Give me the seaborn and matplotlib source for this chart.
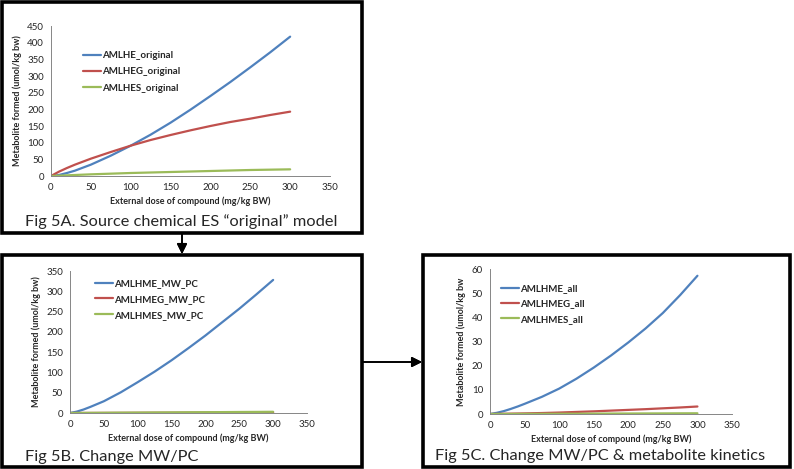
import matplotlib
matplotlib.use('Agg')
import matplotlib.pyplot as plt
from matplotlib.patches import Rectangle
import seaborn as sns
import pandas as pd

# dose grid (mg/kg BW) shared by all panels
dose = [0, 10, 20, 30, 40, 50, 75, 100, 125, 150, 175, 200, 225, 250, 275, 300]

# Fig 5A - original model
amlhe_original = [0, 3, 9, 16, 25, 34, 61, 91, 124, 160, 199, 240, 282, 326, 371, 418]
amlheg_original = [0, 13, 24, 34, 43, 52, 72, 91, 108, 123, 137, 150, 162, 172, 183, 193]
amlhes_original = [0, 1, 2, 3, 4, 5, 7, 9, 10.5, 12, 13.5, 15, 16.5, 18, 19, 20]

# Fig 5B - change MW/PC
amlhme_mw_pc = [0, 3.4, 8.6, 15, 22, 29, 51, 76, 102, 130, 160, 191, 224, 257, 292, 328]
amlhmeg_mw_pc = [0, 0.05, 0.1, 0.15, 0.2, 0.25, 0.35, 0.5, 0.6, 0.7, 0.8, 0.95, 1.05, 1.2, 1.3, 1.4]
amlhmes_mw_pc = [0, 0.1, 0.2, 0.3, 0.4, 0.5, 0.8, 1.0, 1.3, 1.5, 1.8, 2.0, 2.2, 2.5, 2.7, 3.0]

# Fig 5C - change MW/PC & metabolite kinetics
amlhme_all = [0, 0.5, 1.2, 2.1, 3.1, 4.2, 7.1, 10.5, 14.6, 19.2, 24.2, 29.6, 35.4, 41.8, 49.2, 57.2]
amlhmeg_all = [0, 0.05, 0.1, 0.15, 0.2, 0.25, 0.4, 0.6, 0.85, 1.1, 1.4, 1.7, 2.0, 2.35, 2.7, 3.1]
amlhmes_all = [0, 0.01, 0.02, 0.03, 0.04, 0.05, 0.07, 0.1, 0.12, 0.15, 0.18, 0.2, 0.23, 0.25, 0.28, 0.3]

COLORS = ['#4F81BD', '#C0504D', '#9BBB59']
XLABEL = 'External dose of compound (mg/kg BW)'

sns.set_style('white')
plt.rcParams['font.family'] = ['Lato', 'DejaVu Sans']

W, H = 794, 469
fig = plt.figure(figsize=(W / 100, H / 100), dpi=100)


def px_axes(x0, x1, y_top, y_bot):
    """Axes placed by pixel coords (y measured from top)."""
    return fig.add_axes([x0 / W, 1 - y_bot / H, (x1 - x0) / W, (y_bot - y_top) / H])


def draw_panel(ax, series, names, ymax, ystep, ylabel, leg_anchor, spacing):
    df = pd.DataFrame({'dose': dose * len(series),
                       'value': [v for s in series for v in s],
                       'series': [n for n in names for _ in dose]})
    sns.lineplot(data=df, x='dose', y='value', hue='series', palette=COLORS,
                 linewidth=1.6, ax=ax)
    ax.set_xlim(0, 350)
    ax.set_ylim(0, ymax)
    ax.set_xticks(range(0, 351, 50))
    ax.set_yticks(range(0, ymax + 1, ystep))
    ax.tick_params(axis='both', labelsize=7, length=3, width=0.6,
                   color='#868686', direction='out', pad=2)
    for s in ['top', 'right']:
        ax.spines[s].set_visible(False)
    for s in ['left', 'bottom']:
        ax.spines[s].set_color('#868686')
        ax.spines[s].set_linewidth(0.7)
    ax.set_xlabel(XLABEL, fontsize=6.5, fontweight='bold', labelpad=3)
    ax.set_ylabel(ylabel, fontsize=6.5, fontweight='bold', labelpad=4)
    ax.set_facecolor('none')
    ax.legend(loc='upper left', bbox_to_anchor=leg_anchor, frameon=False,
              borderpad=0, borderaxespad=0,
              handlelength=1.85, handletextpad=0.1,
              labelspacing=spacing, prop={'weight': 'bold', 'size': 7})


# frames
def box(x0, y0, x1, y1):
    fig.patches.append(Rectangle((x0 / W, 1 - y1 / H), (x1 - x0) / W, (y1 - y0) / H,
                                 transform=fig.transFigure, fill=False,
                                 edgecolor='black', linewidth=2.6))


box(2, 2, 362, 233)
box(2, 255, 362, 467)
box(423, 255, 790, 467)

axA = px_axes(51, 330, 26, 176)
draw_panel(axA, [amlhe_original, amlheg_original, amlhes_original],
           ['AMLHE_original', 'AMLHEG_original', 'AMLHES_original'],
           450, 50, 'Metabolite formed (umol/kg bw)', (0.115, 0.833), 0.75)

axB = px_axes(70, 307, 271, 413)
draw_panel(axB, [amlhme_mw_pc, amlhmeg_mw_pc, amlhmes_mw_pc],
           ['AMLHME_MW_PC', 'AMLHMEG_MW_PC', 'AMLHMES_MW_PC'],
           350, 50, 'Metabolite formed (umol/kg bw)', (0.105, 0.944), 0.7)

axC = px_axes(490, 732, 269, 414)
draw_panel(axC, [amlhme_all, amlhmeg_all, amlhmes_all],
           ['AMLHME_all', 'AMLHMEG_all', 'AMLHMES_all'],
           60, 10, 'Metabolite formed (umol/kg bw', (0.045, 0.897), 0.65)

# captions
cap = dict(fontsize=11.8, ha='left', va='center', transform=fig.transFigure)
fig.text(25 / W, 1 - 222 / H, 'Fig 5A. Source chemical ES \u201coriginal\u201d model', **cap)
fig.text(25 / W, 1 - 457 / H, 'Fig 5B. Change MW/PC', **cap)
fig.text(435 / W, 1 - 456 / H, 'Fig 5C. Change MW/PC & metabolite kinetics', **cap)

# connecting arrows
arrow = dict(arrowstyle='-|>,head_length=0.6,head_width=0.3', color='black', lw=1.2,
             shrinkA=0, shrinkB=0)
fig.add_artist(plt.annotate('', xy=(182 / W, 1 - 254 / H), xytext=(182 / W, 1 - 234 / H),
                            xycoords='figure fraction', arrowprops=arrow))
fig.add_artist(plt.annotate('', xy=(422 / W, 1 - 362 / H), xytext=(363 / W, 1 - 362 / H),
                            xycoords='figure fraction', arrowprops=arrow))

fig.savefig('out.png', dpi=100)
